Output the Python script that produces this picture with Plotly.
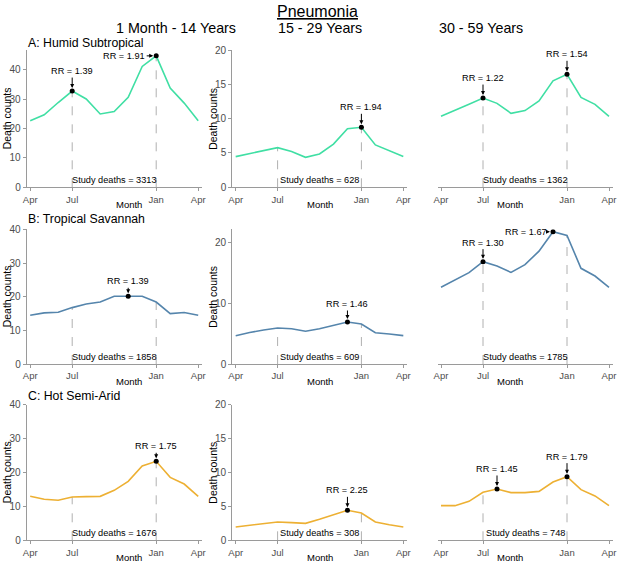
import plotly.graph_objects as go

# figure size in px
W, H = 617, 568

# ## Data

month_labels = ["Apr", "May", "Jun", "Jul", "Aug", "Sep", "Oct",
                "Nov", "Dec", "Jan", "Feb", "Mar", "Apr"]
tick_months = [0, 3, 9, 12]
dash_months = [3, 9]  # Jul, Jan

climates = ["A: Humid Subtropical", "B: Tropical Savannah", "C: Hot Semi-Arid"]
age_groups = ["1 Month - 14 Years", "15 - 29 Years", "30 - 59 Years"]

humid_0_14 = [22.7, 24.7, 28.9, 32.8, 30.1, 25.0, 25.8, 30.7, 41.2, 44.8, 33.8, 28.7, 22.7]
humid_15_29 = [4.47, 4.9, 5.44, 5.78, 5.2, 4.37, 4.85, 6.3, 8.54, 8.74, 6.17, 5.34, 4.47]
humid_30_59 = [10.34, 11.17, 12.09, 13.0, 12.23, 10.78, 11.17, 12.57, 15.5, 16.46, 13.1, 12.09, 10.34]

savannah_0_14 = [14.55, 15.25, 15.45, 16.83, 17.9, 18.5, 20.2, 20.2, 20.2, 18.5, 15.05, 15.35, 14.55]
savannah_15_29 = [4.67, 5.2, 5.6, 5.93, 5.8, 5.4, 5.8, 6.3, 6.92, 6.6, 5.16, 4.95, 4.67]
savannah_30_59 = [12.64, 13.85, 15.05, 16.87, 16.15, 15.1, 16.37, 18.6, 21.8, 21.2, 15.77, 14.5, 12.64]

semiarid_0_14 = [12.97, 12.1, 11.8, 12.78, 12.87, 12.97, 14.74, 17.4, 21.9, 23.3, 18.57, 16.6, 12.97]
semiarid_15_29 = [1.97, 2.2, 2.5, 2.7, 2.6, 2.5, 3.1, 3.78, 4.42, 4.03, 2.7, 2.3, 1.97]
semiarid_30_59 = [5.11, 5.11, 5.75, 7.08, 7.57, 7.03, 7.03, 7.22, 8.6, 9.39, 7.47, 6.54, 5.11]

study_deaths = [[3313, 628, 1362],
                [1858, 609, 1785],
                [1676, 308, 748]]

# peak months (index into month_labels) and their relative risks
rr_months = [[[3, 9], [9], [3, 9]],
             [[7], [8], [3, 8]],
             [[9], [8], [4, 9]]]
rr_values = [[["1.39", "1.91"], ["1.94"], ["1.22", "1.54"]],
             [["1.39"], ["1.46"], ["1.30", "1.67"]],
             [["1.75"], ["2.25"], ["1.45", "1.79"]]]

series = [[humid_0_14, humid_15_29, humid_30_59],
          [savannah_0_14, savannah_15_29, savannah_30_59],
          [semiarid_0_14, semiarid_15_29, semiarid_30_59]]

y_max = [[46.8, 20, 20], [40.2, 22.2, 22.2], [40, 20, 20]]
y_ticks = [[[0, 10, 20, 30, 40], [0, 5, 10, 15, 20], []],
           [[0, 10, 20, 30, 40], [0, 10, 20], []],
           [[0, 10, 20, 30, 40], [0, 5, 10, 15, 20], []]]

# ## Styling

row_colors = ["#40DFA4", "#5585AC", "#EDB033"]
font_family = "Liberation Sans, Arial, sans-serif"
axis_grey = "#9a9a9a"

# panel boxes in px (left, right) / (top, bottom)
col_px = [(26.7, 201.7), (232.2, 406.8), (437.5, 612.5)]
row_px = [(50, 187.3), (229.3, 364), (404.7, 540.3)]

# arrow offsets (ax, ay) per label, same layout as rr_months
rr_offsets = [[[(0, -20), (-32, 0)], [(0, -20)], [(0, -20), (0, -20)]],
              [[(0, -15)], [(0, -18)], [(0, -19), (-27, 0)]],
              [[(0, -15)], [(0, -20)], [(0, -20), (0, -20)]]]


def px_x(v):
    return v / W


def px_y(v):
    return 1 - v / H


fig = go.Figure()
annotations = []
x_idx = list(range(len(month_labels)))

for r in range(3):
    for c in range(3):
        n = r * 3 + c + 1
        xa, ya = f"x{n}", f"y{n}"
        vals = series[r][c]

        # vertical dashed guides at Jul and Jan
        for m in dash_months:
            fig.add_trace(go.Scatter(x=[m, m], y=[0, vals[m]], mode="lines",
                                     line=dict(color="#b0b0b0", width=1, dash="dash"),
                                     xaxis=xa, yaxis=ya, hoverinfo="skip", showlegend=False))

        fig.add_trace(go.Scatter(x=x_idx, y=vals, mode="lines",
                                 line=dict(color=row_colors[r], width=1.6),
                                 xaxis=xa, yaxis=ya, showlegend=False))

        pts = rr_months[r][c]
        fig.add_trace(go.Scatter(x=pts, y=[vals[m] for m in pts], mode="markers",
                                 marker=dict(color="black", size=5),
                                 xaxis=xa, yaxis=ya, showlegend=False))

        for m, rr, (ax, ay) in zip(pts, rr_values[r][c], rr_offsets[r][c]):
            annotations.append(dict(
                x=m, y=vals[m], xref=xa, yref=ya, text=f"RR = {rr}",
                showarrow=True, ax=ax, ay=ay, arrowhead=2, arrowsize=0.8,
                arrowwidth=1, arrowcolor="black", standoff=3,
                font=dict(size=9.2, color="black", family=font_family)))

        annotations.append(dict(
            x=6, y=0, xref=xa, yref=ya, text=f"Study deaths = {study_deaths[r][c]}",
            showarrow=False, yanchor="bottom", yshift=0,
            font=dict(size=9.2, color="black", family=font_family)))

        x0, x1 = col_px[c]
        y0, y1 = row_px[r]
        last_col = c == 2
        fig.update_layout({
            f"xaxis{n if n > 1 else ''}": dict(
                domain=[px_x(x0), px_x(x1)], anchor=ya, range=[-0.25, 12.25],
                tickvals=tick_months, ticktext=[month_labels[t] for t in tick_months],
                showline=True, linecolor=axis_grey, linewidth=1,
                ticks="outside", ticklen=3, tickcolor=axis_grey,
                showgrid=False, zeroline=False, automargin=False,
                tickfont=dict(size=9.5, color="#4d4d4d", family=font_family)),
            f"yaxis{n if n > 1 else ''}": dict(
                domain=[px_y(y1), px_y(y0)], anchor=xa, range=[0, y_max[r][c]],
                tickvals=y_ticks[r][c],
                showline=not last_col, linecolor=axis_grey, linewidth=1,
                ticks="" if last_col else "outside", ticklen=3, tickcolor=axis_grey,
                showticklabels=not last_col, showgrid=False, zeroline=False,
                automargin=False,
                tickfont=dict(size=10, color="#4d4d4d", family=font_family)),
        })

        # axis titles
        annotations.append(dict(
            x=px_x((x0 + x1) / 2), y=px_y(y1 + 17.5), xref="paper", yref="paper",
            text="Month", showarrow=False, yanchor="middle",
            font=dict(size=9.5, color="black", family=font_family)))
        if not last_col:
            annotations.append(dict(
                x=px_x(x0 - 20), y=px_y((y0 + y1) / 2), xref="paper", yref="paper",
                text="Death counts", showarrow=False, textangle=-90,
                xanchor="center", yanchor="middle",
                font=dict(size=10.5, color="black", family=font_family)))

# column titles and main title
for c, label in enumerate(age_groups):
    x0, x1 = col_px[c]
    annotations.append(dict(
        x=px_x((x0 + x1) / 2), y=px_y(28.3), xref="paper", yref="paper",
        text=label, showarrow=False, yanchor="middle",
        font=dict(size=14.3, color="black", family=font_family)))

annotations.append(dict(
    x=px_x(317), y=px_y(11.7), xref="paper", yref="paper",
    text="<u>Pneumonia</u>", showarrow=False, yanchor="middle",
    font=dict(size=16, color="black", family=font_family)))

# climate zone labels
for r, label in enumerate(climates):
    yc = [43.3, 219.3, 396.3][r]
    annotations.append(dict(
        x=px_x(26), y=px_y(yc), xref="paper", yref="paper",
        text=label, showarrow=False, xanchor="left", yanchor="middle",
        font=dict(size=12.3, color="black", family=font_family)))

fig.update_layout(
    width=W, height=H,
    margin=dict(l=0, r=0, t=0, b=0),
    paper_bgcolor="white", plot_bgcolor="white",
    annotations=annotations,
    showlegend=False,
)

# page body has a default 8px margin; drop it so the figure sits at the corner
fig.write_html("out.html", config={"displayModeBar": False},
               post_script="document.body.style.margin='0px';")
